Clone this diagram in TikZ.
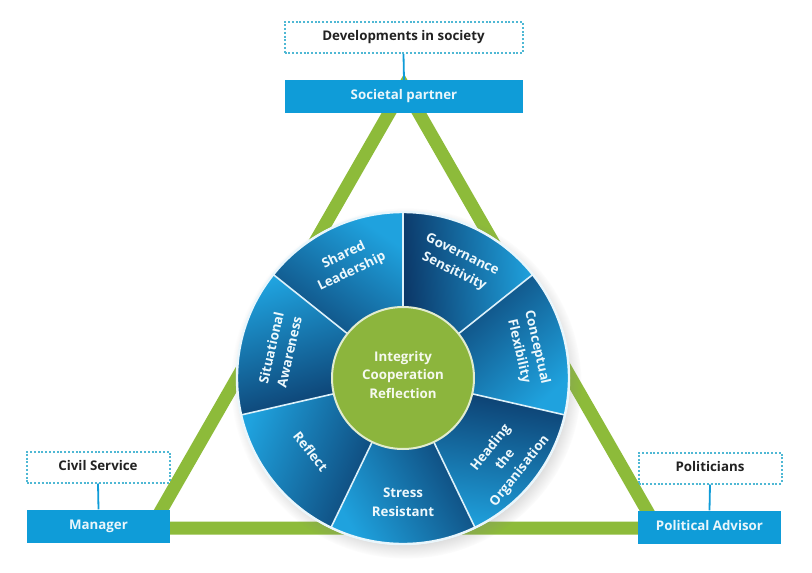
\documentclass[tikz,border=0pt]{standalone}
\usepackage{fontspec}
\setmainfont{Open Sans}
\usetikzlibrary{shadows}
\definecolor{tri}{HTML}{8DBB3A}
\definecolor{boxblue}{HTML}{0F9CD8}
\definecolor{dashc}{HTML}{4FB8D4}
\definecolor{segB}{HTML}{1FA2DE}
\definecolor{segD}{HTML}{0B3565}
\definecolor{corec}{HTML}{8CB53D}
\definecolor{txt}{HTML}{222222}
\definecolor{wtxt}{HTML}{EAF6FB}
\begin{document}
\begin{tikzpicture}[x=1pt,y=-1pt,
  lbl/.style={font=\fontsize{13.3}{18.5}\selectfont\bfseries},
  outerbox/.style={draw=dashc, line width=2pt, dash pattern=on 2pt off 1.8pt, fill=white,
    minimum height=31pt, inner sep=0pt, lbl, text=txt, text height=9.6pt, text depth=2.8pt},
  rolebox/.style={fill=boxblue, minimum height=33pt, inner sep=0pt, lbl, text=wtxt,
    text height=9.6pt, text depth=2.8pt},
  link/.style={draw=boxblue, line width=1.8pt},
  triline/.style={draw=tri, line width=13pt, line join=miter},
  seglbl/.style={lbl, text=white!92!segB, align=center},
  corelbl/.style={lbl, text=white!92!corec, align=center},
]
\useasboundingbox (0,0) rectangle (812,573);
\fill[white] (0,0) rectangle (812,573);

% triangle
\coordinate (apex) at (404,87);
\coordinate (left) at (151,528);
\coordinate (right) at (657,528);
\draw[triline] (apex) -- (left) -- (right) -- cycle;

% wheel
\begin{scope}[shift={(403,378)}, y=1pt]
  \fill[white, circular drop shadow={shadow xshift=3pt, shadow yshift=-5pt, opacity=0.45, shadow scale=1.05}] (0,0) circle (167);
  \foreach \i in {0,...,6}{
    \pgfmathsetmacro\aa{90-\i*360/7}
    \pgfmathsetmacro\ab{90-(\i+1)*360/7}
    \pgfmathsetmacro\sa{(\aa+\ab)/2-150}
    \shade[top color=segB, bottom color=segD, shading angle=\sa]
      (0,0) -- (\aa:166) arc[start angle=\aa, end angle=\ab, radius=166] -- cycle;
  }
  \foreach \i in {0,...,6}{
    \draw[white!85!segB, line width=1.6pt] (0,0) -- ({90-\i*360/7}:166);
  }
  \draw[white!90!segB, line width=2.4pt] (0,0) circle (166);
  \fill[corec] (0,0) circle (71);
  \draw[white!75!corec, line width=2pt] (0,0) circle (71);

  \node[corelbl] (core) at (0,3) {Integrity\\Cooperation\\Reflection};
  \node[seglbl, rotate=25.71]  (s1) at (115.71:127) {Shared\\Leadership};
  \node[seglbl, rotate=-25.71] (s2) at (64.29:127) {Governance\\Sensitivity};
  \node[seglbl, rotate=-77.14] (s3) at (12.86:128) {Conceptual\\Flexibility};
  \node[seglbl, rotate=51.43]  (s4) at (-38.57:131) {Heading\\the\\Organisation};
  \node[seglbl]                (s5) at (-90:124) {Stress\\Resistant};
  \node[seglbl, rotate=-51.43] (s6) at (-141.43:118) {Reflect};
  \node[seglbl, rotate=77.14]  (s7) at (167.14:126) {Situational\\Awareness};
\end{scope}

% boxes
\node[outerbox, minimum width=238pt] (dev) at (403.5,37.5) {Developments in society};
\node[rolebox, minimum width=238pt] (soc) at (404,96.5) {Societal partner};
\node[outerbox, minimum width=143pt] (civ) at (98,467) {Civil Service};
\node[rolebox, minimum width=143pt] (man) at (98.5,526) {Manager};
\node[outerbox, minimum width=143pt] (pol) at (710,468) {Politicians};
\node[rolebox, minimum width=143pt] (adv) at (709.5,527) {Political Advisor};

\draw[link] (dev.south) -- (soc.north);
\draw[link] (civ.south) -- (man.north);
\draw[link] (pol.south) -- (adv.north);
\end{tikzpicture}
\end{document}
